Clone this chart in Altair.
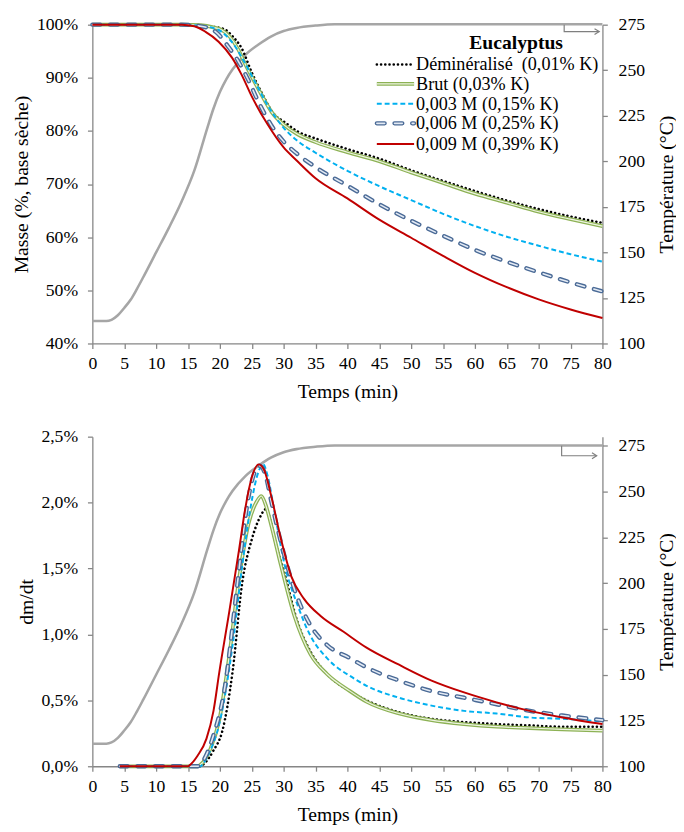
import altair as alt
import pandas as pd

FONT = "Liberation Serif, Times New Roman, Times, serif"
AXIS_GRAY = "#868686"

# ---------------- data ----------------
# Temperature programme (°C) vs time (min) - same in both panels
temp_time = [0, 2.2, 3, 4, 5, 6, 7, 8, 10, 12, 14, 16, 18, 19, 20, 21, 22, 24, 26, 28, 30, 32, 35, 38, 80]
temp_value = [112.3, 112.3, 113, 115.5, 119.5, 124, 130, 136.5, 150, 163.5, 178, 195, 218, 229, 238, 245,
              250.5, 258.5, 264, 268.5, 271.5, 273.2, 274.5, 275.2, 275.2]

# Top panel: residual mass (%, dry basis)
mass_t_demin = [0, 14, 17, 19, 20.8, 22, 23.4, 25, 26.5, 28.6, 30, 32.2, 35, 40, 45, 50, 55, 60, 65, 70, 75, 80]
mass_demin = [100, 100, 99.9, 99.6, 99.1, 97.8, 95.6, 91.0, 87.3, 83.0, 81.8, 79.9, 78.6, 76.6, 74.8, 72.6,
              70.6, 68.7, 66.9, 65.3, 63.9, 62.7]
mass_t_brut = [0, 14, 17, 19, 20.3, 21.5, 22.9, 24, 25.5, 27, 28.1, 30, 32, 35, 40, 45, 50, 55, 60, 65, 70, 75, 80]
mass_brut = [100, 100, 99.9, 99.5, 99.0, 97.8, 95.3, 92.5, 89.1, 85.8, 83.6, 81.2, 79.5, 77.9, 76.0, 74.3, 72.2,
             70.2, 68.2, 66.5, 64.8, 63.4, 62.1]
mass_t_003 = [0, 14, 17, 19.8, 21, 22.4, 23.7, 25, 27.5, 30, 32, 35, 40, 45, 50, 55, 60, 65, 70, 75, 80]
mass_003 = [100, 100, 99.8, 99.0, 97.9, 95.9, 93.3, 90.4, 84.8, 80.6, 78.3, 75.9, 72.5, 69.6, 67.0, 64.4, 62.1,
            60.1, 58.4, 56.8, 55.4]
mass_t_006 = [0, 14, 17, 19.3, 21.3, 22.9, 24.5, 26, 28, 30, 32, 35, 40, 45, 50, 55, 60, 65, 70, 75, 80]
mass_006 = [100, 100, 99.7, 98.7, 95.9, 93.1, 89.5, 85.6, 81.2, 78.0, 75.8, 73.2, 69.7, 66.2, 63.1, 60.3, 57.6,
            55.4, 53.4, 51.5, 49.8]
mass_t_009 = [0, 14, 16, 17.7, 19.8, 21.9, 23.4, 25, 27.5, 30, 32, 35, 40, 45, 50, 55, 60, 65, 70, 75, 80]
mass_009 = [100, 100, 99.7, 98.7, 96.8, 93.8, 90.6, 86.5, 81.2, 76.9, 74.5, 71.1, 67.3, 63.3, 59.9, 56.5, 53.3,
            50.6, 48.3, 46.4, 44.8]

# Bottom panel: dm/dt (%/min)
rate_t_demin = [4.3, 17, 17.3, 19, 20.4, 22, 23.5, 25, 26.3, 27.2, 28, 28.6, 30.1, 32.2, 34.2, 36.8, 40.4, 43,
                48.1, 53.2, 58.3, 63.4, 68.6, 73.7, 80]
rate_demin = [0, 0, 0.01, 0.12, 0.27, 0.72, 1.39, 1.72, 1.89, 1.95, 1.85, 1.72, 1.47, 1.09, 0.87, 0.70, 0.57, 0.50,
              0.41, 0.36, 0.335, 0.32, 0.31, 0.30, 0.30]
rate_t_brut = [4.3, 16.5, 16.9, 18.5, 19.9, 21.5, 23, 24.5, 25.8, 26.5, 27.2, 28.1, 29.6, 31.7, 34.2, 36.8, 40.4,
               43, 48.1, 53.2, 58.3, 63.4, 68.6, 73.7, 80]
rate_brut = [0, 0, 0.01, 0.13, 0.35, 0.85, 1.42, 1.84, 2.01, 2.05, 1.98, 1.82, 1.52, 1.14, 0.85, 0.70, 0.57, 0.49,
             0.40, 0.35, 0.32, 0.30, 0.29, 0.28, 0.27]
rate_t_003 = [4.3, 17, 17.2, 18.5, 19.9, 22, 23.5, 24.8, 26.1, 26.8, 27.5, 28.6, 30.1, 32.2, 34.2, 36.8, 40.9, 43,
              48.1, 53.2, 58.3, 63.4, 68.6, 73.7, 80]
rate_003 = [0, 0, 0.01, 0.12, 0.32, 0.92, 1.52, 1.96, 2.24, 2.29, 2.20, 1.92, 1.54, 1.22, 0.99, 0.82, 0.67, 0.61,
            0.52, 0.46, 0.42, 0.40, 0.37, 0.36, 0.34]
rate_t_006 = [4.3, 16.5, 16.9, 18, 18.9, 21, 22, 23, 24, 25.3, 26.3, 27.2, 28.1, 30, 32, 34.2, 36.8, 40.4, 43,
              48.1, 53.2, 58.3, 63.4, 68.6, 73.7, 80]
rate_006 = [0, 0, 0.01, 0.10, 0.22, 0.67, 1.07, 1.49, 1.89, 2.21, 2.28, 2.20, 2.00, 1.62, 1.30, 1.07, 0.92, 0.82,
            0.75, 0.65, 0.57, 0.52, 0.47, 0.42, 0.385, 0.35]
rate_t_009 = [4.3, 15, 15.3, 16.5, 17.9, 19, 19.9, 21.5, 23, 24, 25, 26.1, 27, 28.1, 29.6, 31.2, 33.2, 35.8, 39.4,
              43, 48.1, 53.2, 58.3, 63.4, 68.6, 73.7, 80]
rate_009 = [0, 0, 0.01, 0.08, 0.21, 0.42, 0.71, 1.18, 1.64, 1.96, 2.19, 2.29, 2.24, 2.04, 1.72, 1.44, 1.27, 1.14,
            1.02, 0.90, 0.77, 0.65, 0.56, 0.485, 0.42, 0.37, 0.32]

series_labels = ["Déminéralisé\u00a0 (0,01% K)", "Brut (0,03% K)", "0,003 M (0,15% K)",
                 "0,006 M (0,25% K)", "0,009 M (0,39% K)"]
legend_title = "Eucalyptus"

x_ticks = list(range(0, 85, 5))
mass_ticks = [40, 50, 60, 70, 80, 90, 100]
rate_ticks = [0, 0.5, 1.0, 1.5, 2.0, 2.5]
temp_ticks = [100, 125, 150, 175, 200, 225, 250, 275]

# arrow (time, temperature) marking the right-hand axis
arrow_top_t = [74, 74, 79.5]
arrow_top_T = [275, 271.2, 271.2]
arrow_bot_t = [73.6, 73.6, 79.1]
arrow_bot_T = [275, 269.6, 269.6]

# ---------------- styles ----------------
STYLES = [
    [dict(color="#000000", strokeWidth=2.6, strokeDash=[0.1, 4.2], strokeCap="round")],
    [dict(color="#8DB255", strokeWidth=3.8), dict(color="#EEF4E2", strokeWidth=1.2)],
    [dict(color="#00B0F0", strokeWidth=2.0, strokeDash=[5, 3])],
    [dict(color="#4A6A96", strokeWidth=4.4, strokeDash=[8, 10], strokeCap="round"),
     dict(color="#E3EAF4", strokeWidth=1.6, strokeDash=[8, 10], strokeCap="round")],
    [dict(color="#C00000", strokeWidth=2.0)],
]
TEMP_COLOR = "#A6A6A6"

W = 520
H_TOP = 325
H_BOT = 336

X = alt.X("t:Q", scale=alt.Scale(domain=[0, 80], nice=False),
          axis=alt.Axis(values=x_ticks, title="Temps (min)", labelFlush=False, labelOverlap=False,
                        labelPadding=7, titlePadding=9))


def temp_axis():
    return alt.Axis(orient="right", values=temp_ticks, title="Température (°C)", titleAngle=270,
                    titleBaseline="top", labelPadding=11, titlePadding=12, labelOverlap=False)


def series_layers(times, values, yenc, field):
    layers = []
    for i, (tt, vv) in enumerate(zip(times, values)):
        df = pd.DataFrame({"t": tt, field: vv})
        for st in STYLES[i]:
            layers.append(alt.Chart(df).mark_line(interpolate="monotone", **st).encode(x=X, y=yenc))
    return layers


def temp_group(domain, at, aT):
    Y = alt.Y("T:Q", scale=alt.Scale(domain=domain, nice=False, zero=False), axis=temp_axis())
    tdf = pd.DataFrame({"t": temp_time, "T": temp_value})
    line = alt.Chart(tdf).mark_line(color=TEMP_COLOR, strokeWidth=2.6, interpolate="monotone").encode(x=X, y=Y)
    adf = pd.DataFrame({"t": at, "T": aT, "o": [0, 1, 2]})
    arrow = alt.Chart(adf).mark_line(color="#7F7F7F", strokeWidth=1.2).encode(x=X, y=Y, order="o:Q")
    head = alt.Chart(adf.iloc[[2]]).mark_point(shape="M-1.6,-1L0,0L-1.6,1", filled=False, size=36,
                                                 color="#7F7F7F", strokeWidth=1.2, opacity=1).encode(x=X, y=Y)
    return alt.layer(line, arrow, head)


# ---------------- top panel ----------------
Y_MASS = alt.Y("m:Q", scale=alt.Scale(domain=[40, 100], nice=False, zero=False),
               axis=alt.Axis(values=mass_ticks, labelExpr="datum.value + '%'", title="Masse (%, base sèche)",
                             labelPadding=10, titlePadding=5))

mass_layers = series_layers([mass_t_demin, mass_t_brut, mass_t_003, mass_t_006, mass_t_009],
                            [mass_demin, mass_brut, mass_003, mass_006, mass_009], Y_MASS, "m")

# legend drawn inside the plot (upper right)
LEG_X0, LEG_X1, LEG_TX = 290, 328, 330
leg_rows = [40.6, 60.3, 80.6, 100.6, 121.6]
legend_layers = []
for i, lab in enumerate(series_labels):
    ldf = pd.DataFrame({"label": [lab]})
    for st in STYLES[i]:
        legend_layers.append(alt.Chart(ldf).mark_rule(**st).encode(
            x=alt.value(LEG_X0), x2=alt.value(LEG_X1), y=alt.value(leg_rows[i])))
    legend_layers.append(alt.Chart(ldf).mark_text(align="left", baseline="middle", font=FONT, fontSize=18.5,
                                                  color="#000").encode(
        x=alt.value(LEG_TX), y=alt.value(leg_rows[i]), text="label:N"))
legend_layers.append(alt.Chart(pd.DataFrame({"label": [legend_title]})).mark_text(
    align="center", baseline="middle", font=FONT, fontSize=20, fontWeight="bold", color="#000").encode(
    x=alt.value(432), y=alt.value(19), text="label:N"))

top = alt.layer(
    temp_group([100, 275], arrow_top_t, arrow_top_T),
    alt.layer(*mass_layers, *legend_layers),
).resolve_scale(y="independent").properties(width=W, height=H_TOP)

# ---------------- bottom panel ----------------
Y_RATE = alt.Y("r:Q", scale=alt.Scale(domain=[0, 2.5], nice=False, zero=False),
               axis=alt.Axis(values=rate_ticks,
                             labelExpr="replace(format(datum.value, '.1f'), '.', ',') + '%'",
                             title="dm/dt", labelPadding=10, titlePadding=5))

rate_layers = series_layers([rate_t_demin, rate_t_brut, rate_t_003, rate_t_006, rate_t_009],
                            [rate_demin, rate_brut, rate_003, rate_006, rate_009], Y_RATE, "r")

bottom = alt.layer(
    temp_group([100, 280], arrow_bot_t, arrow_bot_T),
    alt.layer(*rate_layers),
).resolve_scale(y="independent").properties(width=W, height=H_BOT)

chart = alt.vconcat(top, bottom, spacing=27).properties(
    padding={"left": 4, "top": 0, "right": 0, "bottom": 0}
).configure_view(stroke=None).configure_axis(
    domainColor=AXIS_GRAY, tickColor=AXIS_GRAY, tickSize=5, domainWidth=1.3, tickWidth=1.3,
    labelFont=FONT, labelFontSize=18, labelColor="#000", titleFont=FONT, titleFontSize=20,
    titleFontWeight="normal", titleColor="#000", grid=False
)

chart.save("out.html", embed_options={"renderer": "svg", "actions": False})
